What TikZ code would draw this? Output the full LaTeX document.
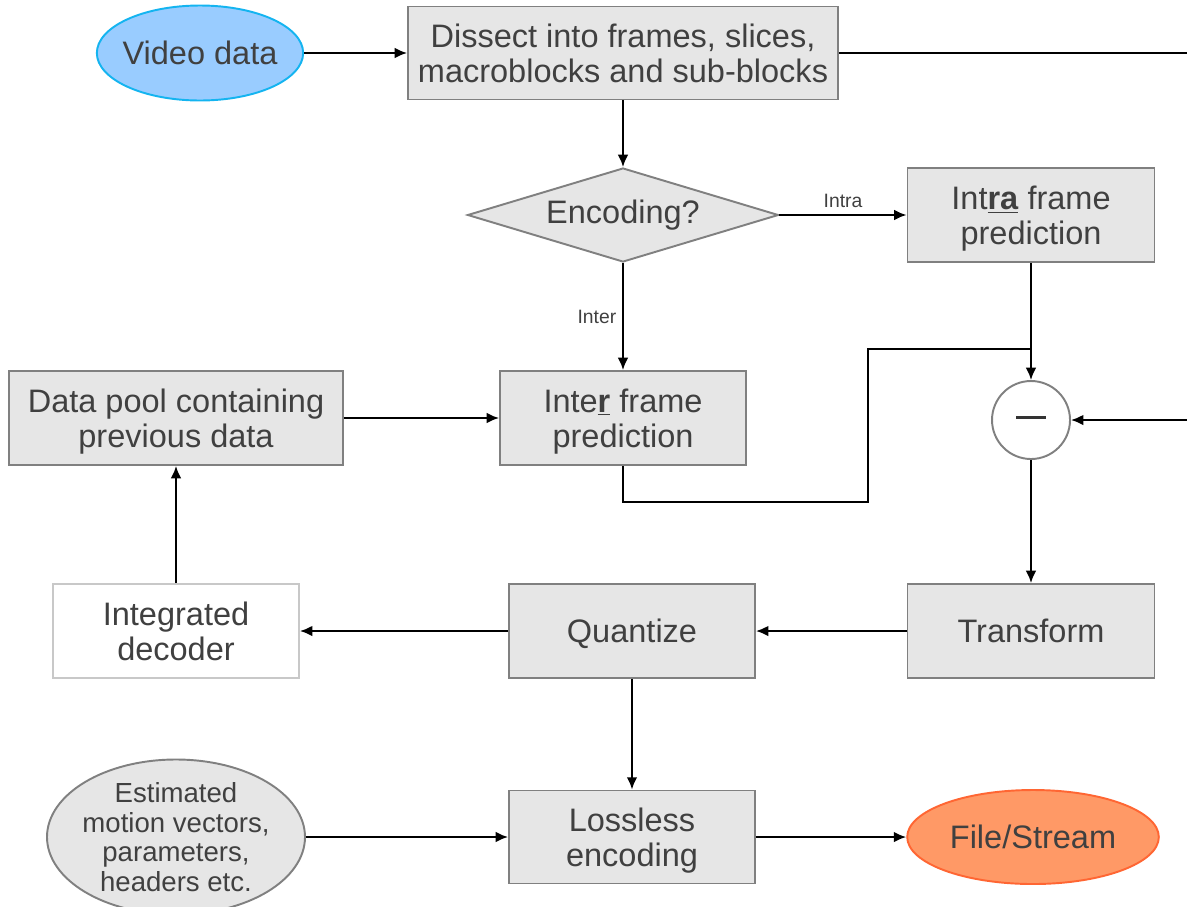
\documentclass[tikz,border=0pt]{standalone}
\usepackage{fontspec}
\setmainfont{Liberation Sans}
\usepackage{xcolor}
\usetikzlibrary{shapes.geometric,arrows.meta}
\definecolor{boxfill}{RGB}{230,230,230}
\definecolor{boxline}{RGB}{128,128,128}
\definecolor{textgray}{RGB}{64,64,64}
\definecolor{videofill}{RGB}{153,204,255}
\definecolor{videoline}{RGB}{20,180,240}
\definecolor{filefill}{RGB}{255,153,102}
\definecolor{fileline}{RGB}{255,102,51}
\definecolor{decoderline}{RGB}{200,200,200}

\tikzset{
  stepbox/.style={rectangle, draw=boxline, fill=boxfill, line width=1.1pt, text=textgray,
    align=center, minimum width=4.92cm, minimum height=1.88cm, inner sep=2pt,
    text depth=0pt, font=\fontsize{18.5}{20}\selectfont},
  flow/.style={line width=1.1pt, -{Latex[length=7pt,width=6pt]}},
  plainline/.style={line width=1.1pt},
  branch/.style={font=\fontsize{11}{13}\selectfont, text=textgray}
}

\begin{document}
\begin{tikzpicture}

% 1. CANVAS
\useasboundingbox (0,0) rectangle (23.74,-18.12);

% 2. TOP ROW
\node[ellipse, draw=videoline, fill=videofill, line width=1.1pt, text=textgray,
  inner xsep=-0.09cm, inner ysep=0pt,
  minimum width=4.1cm, minimum height=1.9cm, font=\fontsize{18.5}{20}\selectfont]
  (video) at (4.0,-1.06) {Video data};
\node[stepbox, minimum width=8.6cm, minimum height=1.86cm] (dissect) at (12.46,-1.06)
  {Dissect into frames, slices,\\macroblocks and sub-blocks};
\coordinate (topexit) at (23.74,-1.06);

% 3. DECISION & PREDICTION
\node[diamond, aspect=3.3, draw=boxline, fill=boxfill, line width=1.1pt, text=textgray,
  inner sep=0pt, minimum width=6.22cm, minimum height=1.88cm,
  font=\fontsize{18.5}{20}\selectfont] (encoding) at (12.46,-4.3) {Encoding?};
\node[stepbox, minimum width=4.94cm] (intra) at (20.62,-4.3)
  {Int\smash{\underline{\textbf{ra}}} frame\\prediction};
\node[stepbox] (inter) at (12.46,-8.36) {Inte\smash{\underline{\textbf{r}}} frame\\prediction};
\node[stepbox, minimum width=6.68cm] (pool) at (3.52,-8.36)
  {Data pool containing\\previous data};

% Subtraction
\node[circle, draw=boxline, fill=white, line width=1.1pt, minimum size=1.56cm,
  inner sep=0pt] (minus) at (20.62,-8.4) {\textcolor{textgray!80!black}{\rule[0.5ex]{0.6cm}{1.8pt}}};
\coordinate (join) at (20.62,-6.98);
\coordinate (sideentry) at (23.74,-8.4);

% 4. TRANSFORM ROW
\node[stepbox, minimum width=4.94cm] (transform) at (20.62,-12.62) {Transform};
\node[stepbox] (quantize) at (12.64,-12.62) {Quantize};
\node[stepbox, fill=white, draw=decoderline] (decoder) at (3.52,-12.62)
  {Integrated\\decoder};

% 5. OUTPUT ROW
\node[ellipse, draw=boxline, fill=boxfill, line width=1.1pt, text=textgray,
  inner xsep=-0.06cm, inner ysep=0pt, text depth=0pt,
  align=center, minimum width=5.16cm, minimum height=2.76cm,
  font=\fontsize{15.7}{17}\selectfont] (estimated) at (3.52,-16.74)
  {Estimated\\motion vectors,\\parameters,\\headers etc.};
\node[stepbox, minimum height=1.86cm] (lossless) at (12.64,-16.74) {Lossless\\encoding};
\node[ellipse, draw=fileline, fill=filefill, line width=1.1pt, text=textgray,
  minimum width=5.0cm, minimum height=1.88cm, font=\fontsize{18.5}{20}\selectfont]
  (file) at (20.66,-16.74) {File/Stream};

% 6. CONNECTORS
\draw[flow] (video) -- (dissect);
\draw[plainline] (dissect.east) -- (topexit);
\draw[flow] (dissect) -- (encoding);
\draw[flow] (encoding.east) -- node[branch, above] {Intra} (intra.west);
\draw[flow] (encoding.south) -- node[branch, left] {Inter} (inter.north);
\draw[flow] (pool) -- (inter);
\draw[plainline] (inter.south) -- ++(0,-0.72) -| (17.36,-6.98) -- (join);
\draw[flow] (intra.south) -- (minus.north);
\draw[flow] (sideentry) -- (minus.east);
\draw[flow] (minus.south) -- (transform.north);
\draw[flow] (transform) -- (quantize);
\draw[flow] (quantize) -- (decoder);
\draw[flow] (decoder) -- (pool);
\draw[flow] (quantize) -- (lossless);
\draw[flow] (estimated) -- (lossless);
\draw[flow] (lossless) -- (file);

\end{tikzpicture}
\end{document}
